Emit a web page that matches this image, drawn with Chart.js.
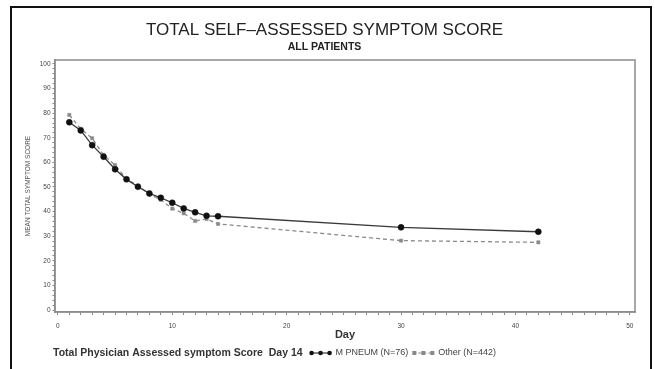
<!DOCTYPE html>
<html>
<head>
<meta charset="utf-8">
<style>
  html, body { margin: 0; padding: 0; background: #fff; }
  #wrap { position: relative; width: 655px; height: 369px; }
</style>
<script src="https://cdn.jsdelivr.net/npm/chart.js@4.4.1/dist/chart.umd.min.js"></script>
</head>
<body>
<div id="wrap"><canvas id="c" width="655" height="369"></canvas></div>
<script>
// Study days with a recorded mean score
const days = [1, 2, 3, 4, 5, 6, 7, 8, 9, 10, 11, 12, 13, 14, 30, 42];
// Mean total self-assessed symptom score, M. pneumoniae patients
const mPneum = [76.3, 73.0, 67.0, 62.3, 57.2, 53.1, 50.1, 47.4, 45.6, 43.6, 41.3, 39.7, 38.3, 38.1, 33.6, 31.8];
// Mean total self-assessed symptom score, all other patients
const other = [79.3, 73.6, 69.8, 63.0, 58.9, 53.3, 50.6, 47.0, 44.8, 41.2, 39.3, 36.2, 37.0, 35.0, 28.2, 27.5];

const yLabels = [0, 10, 20, 30, 40, 50, 60, 70, 80, 90, 100];
const xLabels = [0, 10, 20, 30, 40, 50];

const titleText = 'TOTAL SELF\u2013ASSESSED SYMPTOM SCORE';
const subtitleText = 'ALL PATIENTS';
const yTitle = 'MEAN TOTAL SYMPTOM SCORE';
const xTitle = 'Day';
const legendLead = 'Total Physician Assessed symptom Score  Day 14';
const seriesNames = ['M PNEUM (N=76)', 'Other (N=442)'];

const LINE_DARK = '#3a3a3a';
const LINE_GREY = '#8a8a8a';

// Outer frame around the whole figure, plus the boxed plot area
const framePlugin = {
  id: 'frames',
  beforeDraw(chart) {
    const ctx = chart.ctx;
    ctx.save();
    ctx.fillStyle = '#fff';
    ctx.fillRect(0, 0, chart.width, chart.height);
    ctx.strokeStyle = '#111';
    ctx.lineWidth = 2;
    ctx.strokeRect(11, 7, 640, 400);
    ctx.restore();
  },
  afterDatasetsDraw(chart) {
    const a = chart.chartArea;
    const ctx = chart.ctx;
    ctx.save();
    ctx.strokeStyle = '#8c8c8c';
    ctx.lineWidth = 1.5;
    ctx.strokeRect(a.left, a.top, a.right - a.left, a.bottom - a.top);
    ctx.restore();
  }
};

// Footnote-style legend line under the axis title
const legendLine = {
  id: 'legendLine',
  afterDraw(chart) {
    const ctx = chart.ctx;
    const y = 353;
    let x = 53;
    ctx.save();
    ctx.textBaseline = 'middle';
    ctx.fillStyle = '#333';
    ctx.font = 'bold 10.5px "Liberation Sans", Arial, sans-serif';
    ctx.fillText(legendLead, x, y);
    x += ctx.measureText(legendLead).width + 8;

    // solid line with three filled dots
    ctx.strokeStyle = LINE_DARK;
    ctx.lineWidth = 1.2;
    ctx.beginPath(); ctx.moveTo(x, y); ctx.lineTo(x + 20, y); ctx.stroke();
    ctx.fillStyle = '#111';
    for (let i = 0; i < 3; i++) {
      ctx.beginPath(); ctx.arc(x + i * 9 + 1, y, 2.3, 0, Math.PI * 2); ctx.fill();
    }
    x += 25;
    ctx.fillStyle = '#444';
    ctx.font = '9px "Liberation Sans", Arial, sans-serif';
    ctx.fillText(seriesNames[0], x, y);
    x += ctx.measureText(seriesNames[0]).width + 5;

    // dashed line with three grey marks
    ctx.strokeStyle = LINE_GREY;
    ctx.setLineDash([3, 2]);
    ctx.beginPath(); ctx.moveTo(x, y); ctx.lineTo(x + 20, y); ctx.stroke();
    ctx.setLineDash([]);
    ctx.fillStyle = '#888';
    for (let i = 0; i < 3; i++) {
      ctx.fillRect(x + i * 9 - 1, y - 2, 4, 4);
    }
    x += 25;
    ctx.fillStyle = '#444';
    ctx.fillText(seriesNames[1], x, y);
    ctx.restore();
  }
};

const tickFont = { family: '"Liberation Sans", Arial, sans-serif', size: 6.5 };

new Chart(document.getElementById('c'), {
  type: 'line',
  data: {
    datasets: [
      {
        label: seriesNames[0],
        data: days.map((d, i) => ({ x: d, y: mPneum[i] })),
        borderColor: LINE_DARK,
        borderWidth: 1.3,
        pointStyle: 'circle',
        pointRadius: 3,
        pointBackgroundColor: '#111',
        pointBorderColor: '#111',
        pointBorderWidth: 0.5,
        tension: 0,
        order: 1
      },
      {
        label: seriesNames[1],
        data: days.map((d, i) => ({ x: d, y: other[i] })),
        borderColor: LINE_GREY,
        borderWidth: 1.3,
        borderDash: [4, 3],
        pointStyle: 'rect',
        pointRadius: 2.3,
        pointBackgroundColor: '#8a8a8a',
        pointBorderColor: '#8a8a8a',
        pointBorderWidth: 0.5,
        tension: 0,
        order: 2
      }
    ]
  },
  options: {
    responsive: false,
    animation: false,
    devicePixelRatio: 1,
    layout: { padding: { left: 14, right: 20, top: 0, bottom: 25 } },
    plugins: {
      legend: { display: false },
      tooltip: { enabled: false },
      title: {
        display: true,
        text: titleText,
        color: '#222',
        font: { family: '"Liberation Sans", Arial, sans-serif', size: 17, weight: 'normal' },
        padding: { top: 20, bottom: 0 }
      },
      subtitle: {
        display: true,
        text: subtitleText,
        color: '#222',
        font: { family: '"Liberation Sans", Arial, sans-serif', size: 10.5, weight: 'bold' },
        padding: { top: 0, bottom: 7 }
      }
    },
    scales: {
      x: {
        type: 'linear',
        min: -0.25,
        max: 50.45,
        afterBuildTicks(axis) {
          const t = [];
          for (let v = 0; v <= 50; v++) t.push({ value: v });
          axis.ticks = t;
        },
        afterFit(axis) { axis.height = 32; },
        ticks: {
          autoSkip: false,
          maxRotation: 0,
          padding: 7,
          color: '#444',
          font: tickFont,
          callback: (v) => xLabels.includes(v) ? String(v) : ''
        },
        grid: { drawOnChartArea: false, drawTicks: true, tickLength: 3, color: '#888', lineWidth: 1 },
        border: { display: true, color: '#8c8c8c', width: 1.5 },
        title: {
          display: true,
          text: xTitle,
          color: '#333',
          font: { family: '"Liberation Sans", Arial, sans-serif', size: 11, weight: 'bold' },
          padding: { top: 0, bottom: 2.5 }
        }
      },
      y: {
        type: 'linear',
        min: -0.8,
        max: 101.6,
        afterBuildTicks(axis) {
          const t = [];
          for (let v = 0; v <= 100; v += 2) t.push({ value: v });
          axis.ticks = t;
        },
        afterFit(axis) { axis.width = 41; },
        ticks: {
          autoSkip: false,
          padding: 2,
          color: '#444',
          font: tickFont,
          callback: (v) => yLabels.includes(v) ? String(v) : ''
        },
        grid: { drawOnChartArea: false, drawTicks: true, tickLength: 2.5, color: '#888', lineWidth: 1 },
        border: { display: true, color: '#8c8c8c', width: 1.5 },
        title: {
          display: true,
          text: yTitle,
          color: '#555',
          font: { family: '"Liberation Sans", Arial, sans-serif', size: 6.5 },
          padding: { top: 10, bottom: 0 }
        }
      }
    }
  },
  plugins: [framePlugin, legendLine]
});
</script>
</body>
</html>
